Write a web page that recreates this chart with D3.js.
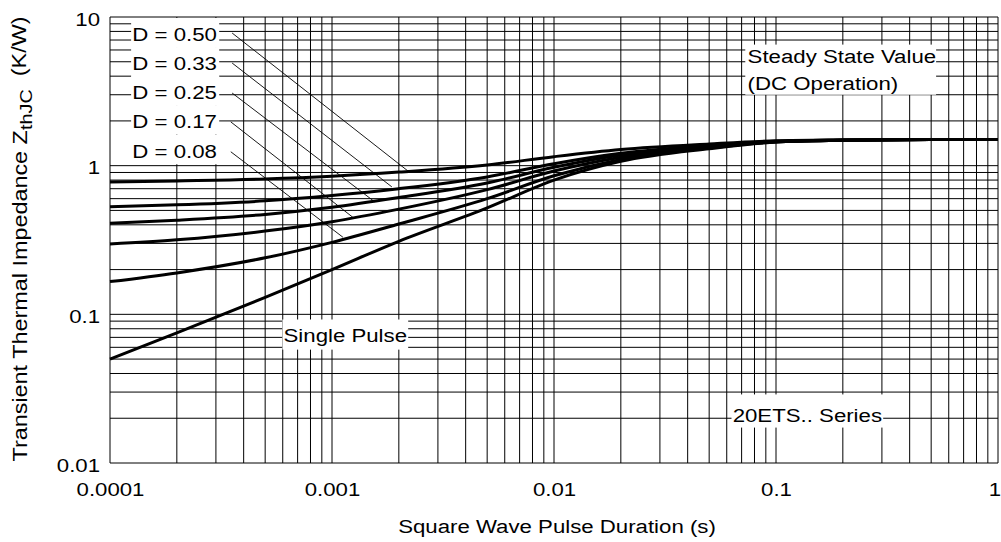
<html>
<head>
    <title>Transient Thermal Impedance</title>
    <script src="https://cdnjs.cloudflare.com/ajax/libs/d3/7.8.5/d3.min.js"></script>
    <style type="text/css">
        body { margin: 0; background: #fff; }
        text { font-family: "Liberation Sans", Arial, sans-serif; fill: #000; }
        .grid line { stroke: #000; stroke-width: 1; }
    </style>
</head>
<body>
    <script type="text/javascript">
        var w = 1001;
        var h = 542;
        var sx = 1.17; // the text in the picture is a bit wide

        // pulse duration (s)
        var tValues = [0.0001, 0.0002, 0.0005, 0.001, 0.002, 0.005, 0.01, 0.02, 0.05, 0.1, 0.2, 0.5, 1];
        // Zth (K/W)
        var zD050 = [0.775, 0.79, 0.815, 0.85, 0.905, 1.01, 1.15, 1.285, 1.4, 1.47, 1.49, 1.5, 1.5];
        var zD033 = [0.53, 0.545, 0.58, 0.63, 0.70, 0.84, 1.03, 1.21, 1.37, 1.46, 1.487, 1.5, 1.5];
        var zD025 = [0.41, 0.43, 0.47, 0.525, 0.61, 0.765, 0.975, 1.18, 1.35, 1.455, 1.485, 1.5, 1.5];
        var zD017 = [0.297, 0.317, 0.363, 0.42, 0.51, 0.69, 0.92, 1.14, 1.335, 1.45, 1.483, 1.5, 1.5];
        var zD008 = [0.166, 0.19, 0.24, 0.305, 0.405, 0.60, 0.855, 1.10, 1.316, 1.445, 1.482, 1.5, 1.5];
        var zSingle = [0.05, 0.075, 0.13, 0.2, 0.31, 0.52, 0.8, 1.07, 1.3, 1.44, 1.48, 1.5, 1.5];

        var xTickValues = [0.0001, 0.001, 0.01, 0.1, 1];
        var xTickLabels = ["0.0001", "0.001", "0.01", "0.1", "1"];
        var yTickValues = [0.01, 0.1, 1, 10];
        var yTickLabels = ["0.01", "0.1", "1", "10"];

        var dLabels = ["D = 0.50", "D = 0.33", "D = 0.25", "D = 0.17", "D = 0.08"];
        var dLabelY = [6.9, 4.4, 2.81, 1.79, 1.13];
        // leader lines: [t, z] start and end
        var leaderStart = [[0.000355, 7.8], [0.000355, 4.9], [0.000355, 3.08], [0.00035, 1.97], [0.00035, 1.24]];
        var leaderEnd = [[0.0022, 0.92], [0.00186, 0.72], [0.00156, 0.57], [0.00124, 0.45], [0.00112, 0.33]];

        var xScale = d3.scaleLog().domain([0.0001, 1]).range([110, 998]);
        var yScale = d3.scaleLog().domain([0.01, 10]).range([463, 17]);

        var svg = d3.select("body")
            .append("svg")
            .attr("width", w)
            .attr("height", h);

        svg.append("rect").attr("width", w).attr("height", h).attr("fill", "#fff");

        // grid
        var grid = svg.append("g").attr("class", "grid");
        grid.selectAll("line.v")
            .data(xScale.ticks())
            .enter()
            .append("line")
            .attr("class", "v")
            .attr("x1", function(d) { return xScale(d); })
            .attr("x2", function(d) { return xScale(d); })
            .attr("y1", yScale(10))
            .attr("y2", yScale(0.01));
        grid.selectAll("line.h")
            .data(yScale.ticks())
            .enter()
            .append("line")
            .attr("class", "h")
            .attr("x1", xScale(0.0001))
            .attr("x2", xScale(1))
            .attr("y1", function(d) { return yScale(d); })
            .attr("y2", function(d) { return yScale(d); });

        // axes (labels only)
        var xAxis = d3.axisBottom(xScale)
            .tickValues(xTickValues)
            .tickSize(0)
            .tickPadding(20)
            .tickFormat(function(d, i) { return xTickLabels[i]; });
        var yAxis = d3.axisLeft(yScale)
            .tickValues(yTickValues)
            .tickSize(0)
            .tickPadding(8.5)
            .tickFormat(function(d, i) { return yTickLabels[i]; });

        var gx = svg.append("g")
            .attr("transform", "translate(0," + yScale(0.01) + ")")
            .call(xAxis);
        var gy = svg.append("g")
            .attr("transform", "translate(" + xScale(0.0001) + ",0)")
            .call(yAxis);
        [gx, gy].forEach(function(g) {
            g.select(".domain").remove();
            g.selectAll("text")
                .attr("font-family", null)
                .style("font-size", "19px")
                .attr("transform", "scale(" + sx + ",1)");
        });
        gy.selectAll("text").attr("dy", "0.43em");
        // last label sits on the right edge
        gx.selectAll("text").filter(function(d) { return d === 1; }).attr("dx", -3);

        // axis titles
        svg.append("text")
            .attr("transform", "translate(557,533) scale(" + sx + ",1)")
            .attr("text-anchor", "middle")
            .style("font-size", "19px")
            .text("Square Wave Pulse Duration (s)");

        var yt = svg.append("text")
            .attr("transform", "translate(27,239) rotate(-90) scale(" + sx + ",1)")
            .attr("text-anchor", "middle")
            .style("font-size", "20px");
        yt.append("tspan").text("Transient Thermal Impedance Z");
        yt.append("tspan").attr("dy", "0.3em").style("font-size", "17px").text("thJC");
        yt.append("tspan").attr("dy", "-0.3em").attr("xml:space", "preserve").text("  (K/W)");

        // text with white box behind it
        function boxLabel(t, z, lines, pad) {
            var g = svg.append("g")
                .attr("transform", "translate(" + xScale(t) + "," + yScale(z) + ") scale(" + sx + ",1)");
            var rect = g.append("rect").attr("fill", "#fff");
            var text = g.append("text").style("font-size", "19px");
            lines.forEach(function(s, i) {
                text.append("tspan").attr("x", 0).attr("dy", i ? 27 : 0).text(s);
            });
            var bb = text.node().getBBox();
            rect.attr("x", bb.x - pad[3])
                .attr("y", bb.y - pad[0])
                .attr("width", bb.width + pad[1] + pad[3])
                .attr("height", bb.height + pad[0] + pad[2]);
        }

        dLabels.forEach(function(s, i) {
            boxLabel(0.000126, dLabelY[i], [s], [5.5, 2, 2.8, 1]);
        });
        boxLabel(0.0745, 4.9, ["Steady State Value", "(DC Operation)"], [1, 0, 1, 2]);
        boxLabel(0.000605, 0.0652, ["Single Pulse"], [5, 1, 4, 1]);
        boxLabel(0.0638, 0.0189, ["20ETS.. Series"], [10, 1, 2, 1]);

        // leader lines
        svg.selectAll("line.leader")
            .data(leaderStart)
            .enter()
            .append("line")
            .attr("class", "leader")
            .attr("x1", function(d) { return xScale(d[0]); })
            .attr("y1", function(d) { return yScale(d[1]); })
            .attr("x2", function(d, i) { return xScale(leaderEnd[i][0]); })
            .attr("y2", function(d, i) { return yScale(leaderEnd[i][1]); })
            .attr("stroke", "#000")
            .attr("stroke-width", 0.9);

        // curves
        var series = [zD050, zD033, zD025, zD017, zD008, zSingle];
        var line = d3.line()
            .x(function(d, i) { return xScale(tValues[i]); })
            .y(function(d) { return yScale(d); })
            .curve(d3.curveMonotoneX);
        svg.selectAll("path.curve")
            .data(series)
            .enter()
            .append("path")
            .attr("class", "curve")
            .attr("d", line)
            .attr("fill", "none")
            .attr("stroke", "#000")
            .attr("stroke-width", 3)
            .attr("stroke-linejoin", "round");
    </script>
</body>
</html>
